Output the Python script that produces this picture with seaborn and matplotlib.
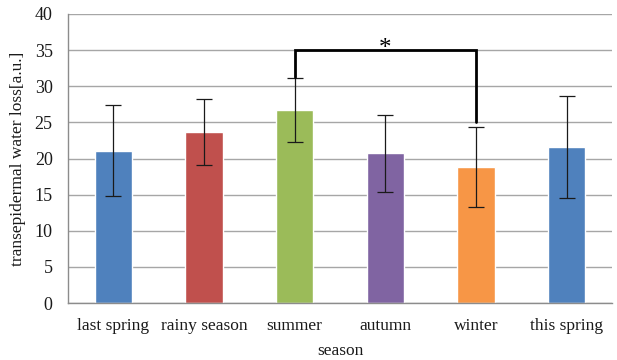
import matplotlib
matplotlib.use("Agg")
import matplotlib.pyplot as plt
import seaborn as sns
import pandas as pd

seasons = ["last spring", "rainy season", "summer", "autumn", "winter", "this spring"]
tewl_mean = [21.1, 23.7, 26.7, 20.7, 18.8, 21.6]
tewl_sd = [6.3, 4.6, 4.4, 5.3, 5.5, 7.1]
bar_colors = ["#4F81BD", "#C0504D", "#9BBB59", "#8064A2", "#F79646", "#4F81BD"]
y_ticks = [0, 5, 10, 15, 20, 25, 30, 35, 40]

# significance bracket: summer vs winter
sig_pair = ("summer", "winter")
sig_level = 35.0
sig_left_end = 31.3
sig_right_end = 25.0
sig_mark = "*"

df = pd.DataFrame({"season": seasons, "tewl": tewl_mean})

sns.set_style("white")
plt.rcParams["font.family"] = ["Liberation Serif", "DejaVu Serif"]

fig = plt.figure(figsize=(6.17, 3.60), dpi=100)
ax = fig.add_axes([68 / 617, 1 - 303 / 360, (612 - 68) / 617, (303 - 14) / 360])

sns.barplot(data=df, x="season", y="tewl", hue="season", palette=bar_colors,
            legend=False, width=0.41, errorbar=None, ax=ax, saturation=1)

xpos = list(range(len(seasons)))
ax.errorbar(xpos, tewl_mean, yerr=tewl_sd, fmt="none", ecolor="#1a1a1a",
            elinewidth=0.9, capsize=5.5, capthick=0.9, zorder=4)

ax.set_ylim(0, 40)
ax.set_xlim(-0.5, len(seasons) - 0.5)
ax.set_yticks(y_ticks)
ax.yaxis.grid(True, color="#A6A6A6", linewidth=1.0)
ax.set_axisbelow(True)
for s in ["top", "right"]:
    ax.spines[s].set_visible(False)
ax.spines["left"].set_color("#8C8C8C")
ax.spines["bottom"].set_color("#8C8C8C")
ax.spines["left"].set_linewidth(1.0)
ax.spines["bottom"].set_linewidth(1.0)

# minor ticks at category boundaries, pointing inward
ax.set_xticks([i + 0.5 for i in range(len(seasons) - 1)], minor=True)
ax.tick_params(axis="x", which="minor", direction="in", length=4,
               color="#8C8C8C", width=1.0)
ax.tick_params(axis="x", which="major", length=0, pad=11, labelsize=12.5,
               labelcolor="#1a1a1a")
ax.tick_params(axis="y", which="major", length=0, pad=11, labelsize=13,
               labelcolor="#1a1a1a")

ax.set_xlabel("season", fontsize=12.5, labelpad=6, color="#1a1a1a")
ax.set_ylabel("transepidermal water loss[a.u.]", fontsize=12.5, labelpad=6,
              color="#1a1a1a")

xl = seasons.index(sig_pair[0])
xr = seasons.index(sig_pair[1])
ax.plot([xl, xl, xr, xr], [sig_left_end, sig_level, sig_level, sig_right_end],
        color="black", linewidth=2.0, solid_joinstyle="miter", zorder=5)
ax.text((xl + xr) / 2, sig_level - 1.3, sig_mark, ha="center", va="bottom",
        fontsize=18, color="black")

fig.savefig("out.png", dpi=100)
